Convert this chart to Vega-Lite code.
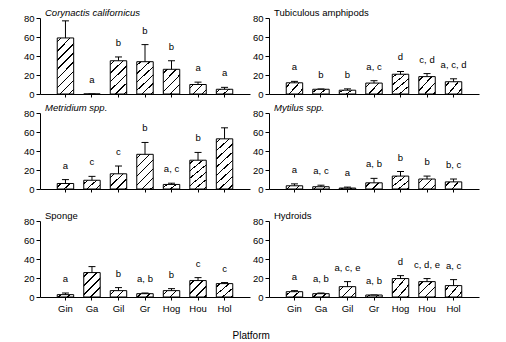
{
 "$schema": "https://vega.github.io/schema/vega-lite/v6.json",
 "padding": {"left": 23, "top": 7, "right": 5, "bottom": 2},
 "background": "white",
 "config": {
  "font": "Liberation Sans",
  "view": {"stroke": null},
  "axis": {"domainColor": "black", "tickColor": "black", "labelColor": "black", "labelFontSize": 9.5, "grid": false, "title": null, "domainWidth": 1, "tickWidth": 1},
  "title": {"anchor": "start", "frame": "group", "fontSize": 9.5, "fontWeight": "normal", "dx": 5, "offset": -4, "color": "black"}
 },
 "params": [
  {"name": "gA", "value": {"gradient": "linear", "x1": 0, "y1": 0, "x2": 1.144, "y2": 0.208, "stops": [{"offset": 0, "color": "#fff"}, {"offset": 0.167, "color": "#fff"}, {"offset": 0.167, "color": "#000"}, {"offset": 0.244, "color": "#000"}, {"offset": 0.244, "color": "#fff"}, {"offset": 0.628, "color": "#fff"}, {"offset": 0.628, "color": "#000"}, {"offset": 0.705, "color": "#000"}, {"offset": 0.705, "color": "#fff"}, {"offset": 1, "color": "#fff"}]}},
  {"name": "gB", "value": {"gradient": "linear", "x1": 0, "y1": 0, "x2": 1.204, "y2": 0.438, "stops": [{"offset": 0, "color": "#fff"}, {"offset": 0.144, "color": "#fff"}, {"offset": 0.144, "color": "#000"}, {"offset": 0.211, "color": "#000"}, {"offset": 0.211, "color": "#fff"}, {"offset": 0.544, "color": "#fff"}, {"offset": 0.544, "color": "#000"}, {"offset": 0.611, "color": "#000"}, {"offset": 0.611, "color": "#fff"}, {"offset": 1, "color": "#fff"}]}},
  {"name": "gC", "value": {"gradient": "linear", "x1": 0, "y1": 0, "x2": 1.175, "y2": 0.712, "stops": [{"offset": 0, "color": "#fff"}, {"offset": 0.123, "color": "#fff"}, {"offset": 0.123, "color": "#000"}, {"offset": 0.179, "color": "#000"}, {"offset": 0.179, "color": "#fff"}, {"offset": 0.463, "color": "#fff"}, {"offset": 0.463, "color": "#000"}, {"offset": 0.519, "color": "#000"}, {"offset": 0.519, "color": "#fff"}, {"offset": 0.802, "color": "#fff"}, {"offset": 0.802, "color": "#000"}, {"offset": 0.858, "color": "#000"}, {"offset": 0.858, "color": "#fff"}, {"offset": 1, "color": "#fff"}]}},
  {"name": "gD", "value": {"gradient": "linear", "x1": 0, "y1": 0, "x2": 1.015, "y2": 0.984, "stops": [{"offset": 0, "color": "#fff"}, {"offset": 0.100, "color": "#fff"}, {"offset": 0.100, "color": "#000"}, {"offset": 0.146, "color": "#000"}, {"offset": 0.146, "color": "#fff"}, {"offset": 0.377, "color": "#fff"}, {"offset": 0.377, "color": "#000"}, {"offset": 0.423, "color": "#000"}, {"offset": 0.423, "color": "#fff"}, {"offset": 0.654, "color": "#fff"}, {"offset": 0.654, "color": "#000"}, {"offset": 0.700, "color": "#000"}, {"offset": 0.700, "color": "#fff"}, {"offset": 0.931, "color": "#fff"}, {"offset": 0.931, "color": "#000"}, {"offset": 0.977, "color": "#000"}, {"offset": 0.977, "color": "#fff"}, {"offset": 1, "color": "#fff"}]}},
  {"name": "gE", "value": {"gradient": "linear", "x1": 0, "y1": 0, "x2": 0.788, "y2": 1.146, "stops": [{"offset": 0, "color": "#fff"}, {"offset": 0.080, "color": "#fff"}, {"offset": 0.080, "color": "#000"}, {"offset": 0.118, "color": "#000"}, {"offset": 0.118, "color": "#fff"}, {"offset": 0.302, "color": "#fff"}, {"offset": 0.302, "color": "#000"}, {"offset": 0.340, "color": "#000"}, {"offset": 0.340, "color": "#fff"}, {"offset": 0.525, "color": "#fff"}, {"offset": 0.525, "color": "#000"}, {"offset": 0.562, "color": "#000"}, {"offset": 0.562, "color": "#fff"}, {"offset": 0.747, "color": "#fff"}, {"offset": 0.747, "color": "#000"}, {"offset": 0.784, "color": "#000"}, {"offset": 0.784, "color": "#fff"}, {"offset": 1, "color": "#fff"}]}},
  {"name": "gF", "value": {"gradient": "linear", "x1": 0, "y1": 0, "x2": 0.568, "y2": 1.204, "stops": [{"offset": 0, "color": "#fff"}, {"offset": 0.063, "color": "#fff"}, {"offset": 0.063, "color": "#000"}, {"offset": 0.092, "color": "#000"}, {"offset": 0.092, "color": "#fff"}, {"offset": 0.238, "color": "#fff"}, {"offset": 0.238, "color": "#000"}, {"offset": 0.267, "color": "#000"}, {"offset": 0.267, "color": "#fff"}, {"offset": 0.413, "color": "#fff"}, {"offset": 0.413, "color": "#000"}, {"offset": 0.442, "color": "#000"}, {"offset": 0.442, "color": "#fff"}, {"offset": 0.588, "color": "#fff"}, {"offset": 0.588, "color": "#000"}, {"offset": 0.617, "color": "#000"}, {"offset": 0.617, "color": "#fff"}, {"offset": 0.762, "color": "#fff"}, {"offset": 0.762, "color": "#000"}, {"offset": 0.791, "color": "#000"}, {"offset": 0.791, "color": "#fff"}, {"offset": 0.937, "color": "#fff"}, {"offset": 0.937, "color": "#000"}, {"offset": 0.966, "color": "#000"}, {"offset": 0.966, "color": "#fff"}, {"offset": 1, "color": "#fff"}]}},
  {"name": "gG", "value": {"gradient": "linear", "x1": 0, "y1": 0, "x2": 0.358, "y2": 1.193, "stops": [{"offset": 0, "color": "#fff"}, {"offset": 0.045, "color": "#fff"}, {"offset": 0.045, "color": "#000"}, {"offset": 0.066, "color": "#000"}, {"offset": 0.066, "color": "#fff"}, {"offset": 0.171, "color": "#fff"}, {"offset": 0.171, "color": "#000"}, {"offset": 0.192, "color": "#000"}, {"offset": 0.192, "color": "#fff"}, {"offset": 0.297, "color": "#fff"}, {"offset": 0.297, "color": "#000"}, {"offset": 0.318, "color": "#000"}, {"offset": 0.318, "color": "#fff"}, {"offset": 0.423, "color": "#fff"}, {"offset": 0.423, "color": "#000"}, {"offset": 0.444, "color": "#000"}, {"offset": 0.444, "color": "#fff"}, {"offset": 0.549, "color": "#fff"}, {"offset": 0.549, "color": "#000"}, {"offset": 0.570, "color": "#000"}, {"offset": 0.570, "color": "#fff"}, {"offset": 0.675, "color": "#fff"}, {"offset": 0.675, "color": "#000"}, {"offset": 0.696, "color": "#000"}, {"offset": 0.696, "color": "#fff"}, {"offset": 0.800, "color": "#fff"}, {"offset": 0.800, "color": "#000"}, {"offset": 0.821, "color": "#000"}, {"offset": 0.821, "color": "#fff"}, {"offset": 0.926, "color": "#fff"}, {"offset": 0.926, "color": "#000"}, {"offset": 0.947, "color": "#000"}, {"offset": 0.947, "color": "#fff"}, {"offset": 1, "color": "#fff"}]}}
 ],
 "datasets": {
  "d": [
   {"panel": "C", "platform": "Gin", "mean": 59, "upper": 77, "letter": ""},
   {"panel": "C", "platform": "Ga", "mean": 0, "upper": 0, "letter": "a"},
   {"panel": "C", "platform": "Gil", "mean": 35, "upper": 39, "letter": "b"},
   {"panel": "C", "platform": "Gr", "mean": 34, "upper": 52, "letter": "b"},
   {"panel": "C", "platform": "Hog", "mean": 26, "upper": 35, "letter": "b"},
   {"panel": "C", "platform": "Hou", "mean": 10, "upper": 12.5, "letter": "a"},
   {"panel": "C", "platform": "Hol", "mean": 5, "upper": 7, "letter": "a"},
   {"panel": "T", "platform": "Gin", "mean": 11.8, "upper": 13.3, "letter": "a"},
   {"panel": "T", "platform": "Ga", "mean": 5, "upper": 5.3, "letter": "b"},
   {"panel": "T", "platform": "Gil", "mean": 4, "upper": 5.4, "letter": "b"},
   {"panel": "T", "platform": "Gr", "mean": 11.5, "upper": 14, "letter": "a, c"},
   {"panel": "T", "platform": "Hog", "mean": 20.8, "upper": 23.7, "letter": "d"},
   {"panel": "T", "platform": "Hou", "mean": 18.3, "upper": 21.5, "letter": "c, d"},
   {"panel": "T", "platform": "Hol", "mean": 12.9, "upper": 16, "letter": "a, c, d"},
   {"panel": "M", "platform": "Gin", "mean": 5.8, "upper": 9.9, "letter": "a"},
   {"panel": "M", "platform": "Ga", "mean": 9.2, "upper": 13.3, "letter": "c"},
   {"panel": "M", "platform": "Gil", "mean": 16, "upper": 24.2, "letter": "c"},
   {"panel": "M", "platform": "Gr", "mean": 36.5, "upper": 49, "letter": "b"},
   {"panel": "M", "platform": "Hog", "mean": 4.8, "upper": 6.1, "letter": "a, c"},
   {"panel": "M", "platform": "Hou", "mean": 30.3, "upper": 38.5, "letter": "b"},
   {"panel": "M", "platform": "Hol", "mean": 52.8, "upper": 64.4, "letter": ""},
   {"panel": "Y", "platform": "Gin", "mean": 3.4, "upper": 5.4, "letter": "a"},
   {"panel": "Y", "platform": "Ga", "mean": 2.4, "upper": 4, "letter": "a, c"},
   {"panel": "Y", "platform": "Gil", "mean": 1, "upper": 2, "letter": "a"},
   {"panel": "Y", "platform": "Gr", "mean": 6.5, "upper": 11.2, "letter": "a, b"},
   {"panel": "Y", "platform": "Hog", "mean": 13.6, "upper": 18.4, "letter": "b"},
   {"panel": "Y", "platform": "Hou", "mean": 10.5, "upper": 13.6, "letter": "b"},
   {"panel": "Y", "platform": "Hol", "mean": 7.5, "upper": 10.5, "letter": "b, c"},
   {"panel": "S", "platform": "Gin", "mean": 2.5, "upper": 4.2, "letter": "a"},
   {"panel": "S", "platform": "Ga", "mean": 25.7, "upper": 32, "letter": ""},
   {"panel": "S", "platform": "Gil", "mean": 6.7, "upper": 9.9, "letter": "b"},
   {"panel": "S", "platform": "Gr", "mean": 3.5, "upper": 4.2, "letter": "a, b"},
   {"panel": "S", "platform": "Hog", "mean": 6.7, "upper": 8.8, "letter": "b"},
   {"panel": "S", "platform": "Hou", "mean": 17.3, "upper": 20.4, "letter": "c"},
   {"panel": "S", "platform": "Hol", "mean": 14.1, "upper": 15.2, "letter": "c"},
   {"panel": "H", "platform": "Gin", "mean": 5.6, "upper": 6.7, "letter": "a"},
   {"panel": "H", "platform": "Ga", "mean": 3.5, "upper": 4.2, "letter": "a, b"},
   {"panel": "H", "platform": "Gil", "mean": 10.9, "upper": 16.2, "letter": "a, c, e"},
   {"panel": "H", "platform": "Gr", "mean": 2.1, "upper": 2.1, "letter": "a, b"},
   {"panel": "H", "platform": "Hog", "mean": 19.4, "upper": 22.5, "letter": "d"},
   {"panel": "H", "platform": "Hou", "mean": 16.2, "upper": 19.4, "letter": "c, d, e"},
   {"panel": "H", "platform": "Hol", "mean": 12, "upper": 18.3, "letter": "a, c"}
  ]
 },
 "title": {"text": "Platform", "orient": "bottom", "anchor": "middle", "frame": "bounds", "dx": 0, "fontSize": 10, "fontWeight": "normal", "offset": 18, "color": "black"},
 "spacing": 3,
 "vconcat": [
  {"spacing": 2, "hconcat": [
   {"title": {"text": "Corynactis californicus", "fontStyle": "italic"}, "width": 210, "height": 76, "data": {"name": "d"}, "transform": [{"filter": "datum.panel === 'C'"}],
    "encoding": {"x": {"field": "platform", "type": "nominal", "scale": {"domain": ["Gin", "Ga", "Gil", "Gr", "Hog", "Hou", "Hol"], "paddingInner": 0.38, "paddingOuter": 0.65}, "axis": {"labels": false, "tickSize": 3, "title": null}}},
    "layer": [
     {"mark": {"type": "bar", "stroke": "black", "strokeWidth": 1}, "encoding": {"y": {"field": "mean", "type": "quantitative", "scale": {"domain": [0, 80]}, "axis": {"values": [0, 20, 40, 60, 80], "tickSize": 4, "labelPadding": 2}}, "fill": {"condition": [{"test": "datum.mean >= 45", "value": {"expr": "gG"}}, {"test": "datum.mean >= 30", "value": {"expr": "gF"}}, {"test": "datum.mean >= 20", "value": {"expr": "gE"}}, {"test": "datum.mean >= 13", "value": {"expr": "gD"}}, {"test": "datum.mean >= 8", "value": {"expr": "gC"}}, {"test": "datum.mean >= 4", "value": {"expr": "gB"}}], "value": {"expr": "gA"}}}},
     {"mark": {"type": "rule", "color": "black", "strokeWidth": 1}, "encoding": {"y": {"field": "mean", "type": "quantitative", "scale": {"domain": [0, 80]}, "axis": {"values": [0, 20, 40, 60, 80], "tickSize": 4, "labelPadding": 2}}, "y2": {"field": "upper"}}},
     {"mark": {"type": "tick", "color": "black", "size": 7, "thickness": 1, "opacity": 1}, "encoding": {"y": {"field": "upper", "type": "quantitative", "scale": {"domain": [0, 80]}, "axis": {"values": [0, 20, 40, 60, 80], "tickSize": 4, "labelPadding": 2}}}},
     {"transform": [{"filter": "datum.letter !== ''"}], "mark": {"type": "text", "baseline": "bottom", "dy": -9, "fontSize": 9.5, "color": "black"}, "encoding": {"y": {"field": "upper", "type": "quantitative", "scale": {"domain": [0, 80]}, "axis": {"values": [0, 20, 40, 60, 80], "tickSize": 4, "labelPadding": 2}}, "text": {"field": "letter"}}}
    ]},
   {"title": {"text": "Tubiculous amphipods"}, "width": 210, "height": 76, "data": {"name": "d"}, "transform": [{"filter": "datum.panel === 'T'"}],
    "encoding": {"x": {"field": "platform", "type": "nominal", "scale": {"domain": ["Gin", "Ga", "Gil", "Gr", "Hog", "Hou", "Hol"], "paddingInner": 0.38, "paddingOuter": 0.65}, "axis": {"labels": false, "tickSize": 3, "title": null}}},
    "layer": [
     {"mark": {"type": "bar", "stroke": "black", "strokeWidth": 1}, "encoding": {"y": {"field": "mean", "type": "quantitative", "scale": {"domain": [0, 80]}, "axis": {"values": [0, 20, 40, 60, 80], "tickSize": 4, "labelPadding": 2}}, "fill": {"condition": [{"test": "datum.mean >= 45", "value": {"expr": "gG"}}, {"test": "datum.mean >= 30", "value": {"expr": "gF"}}, {"test": "datum.mean >= 20", "value": {"expr": "gE"}}, {"test": "datum.mean >= 13", "value": {"expr": "gD"}}, {"test": "datum.mean >= 8", "value": {"expr": "gC"}}, {"test": "datum.mean >= 4", "value": {"expr": "gB"}}], "value": {"expr": "gA"}}}},
     {"mark": {"type": "rule", "color": "black", "strokeWidth": 1}, "encoding": {"y": {"field": "mean", "type": "quantitative", "scale": {"domain": [0, 80]}, "axis": {"values": [0, 20, 40, 60, 80], "tickSize": 4, "labelPadding": 2}}, "y2": {"field": "upper"}}},
     {"mark": {"type": "tick", "color": "black", "size": 7, "thickness": 1, "opacity": 1}, "encoding": {"y": {"field": "upper", "type": "quantitative", "scale": {"domain": [0, 80]}, "axis": {"values": [0, 20, 40, 60, 80], "tickSize": 4, "labelPadding": 2}}}},
     {"transform": [{"filter": "datum.letter !== ''"}], "mark": {"type": "text", "baseline": "bottom", "dy": -9, "fontSize": 9.5, "color": "black"}, "encoding": {"y": {"field": "upper", "type": "quantitative", "scale": {"domain": [0, 80]}, "axis": {"values": [0, 20, 40, 60, 80], "tickSize": 4, "labelPadding": 2}}, "text": {"field": "letter"}}}
    ]}
  ]},
  {"spacing": 16, "vconcat": [
   {"spacing": 2, "hconcat": [
    {"title": {"text": "Metridium spp.", "fontStyle": "italic"}, "width": 210, "height": 76, "data": {"name": "d"}, "transform": [{"filter": "datum.panel === 'M'"}],
     "encoding": {"x": {"field": "platform", "type": "nominal", "scale": {"domain": ["Gin", "Ga", "Gil", "Gr", "Hog", "Hou", "Hol"], "paddingInner": 0.38, "paddingOuter": 0.65}, "axis": {"labels": false, "tickSize": 3, "title": null}}},
     "layer": [
      {"mark": {"type": "bar", "stroke": "black", "strokeWidth": 1}, "encoding": {"y": {"field": "mean", "type": "quantitative", "scale": {"domain": [0, 80]}, "axis": {"values": [0, 20, 40, 60, 80], "tickSize": 4, "labelPadding": 2}}, "fill": {"condition": [{"test": "datum.mean >= 45", "value": {"expr": "gG"}}, {"test": "datum.mean >= 30", "value": {"expr": "gF"}}, {"test": "datum.mean >= 20", "value": {"expr": "gE"}}, {"test": "datum.mean >= 13", "value": {"expr": "gD"}}, {"test": "datum.mean >= 8", "value": {"expr": "gC"}}, {"test": "datum.mean >= 4", "value": {"expr": "gB"}}], "value": {"expr": "gA"}}}},
      {"mark": {"type": "rule", "color": "black", "strokeWidth": 1}, "encoding": {"y": {"field": "mean", "type": "quantitative", "scale": {"domain": [0, 80]}, "axis": {"values": [0, 20, 40, 60, 80], "tickSize": 4, "labelPadding": 2}}, "y2": {"field": "upper"}}},
      {"mark": {"type": "tick", "color": "black", "size": 7, "thickness": 1, "opacity": 1}, "encoding": {"y": {"field": "upper", "type": "quantitative", "scale": {"domain": [0, 80]}, "axis": {"values": [0, 20, 40, 60, 80], "tickSize": 4, "labelPadding": 2}}}},
      {"transform": [{"filter": "datum.letter !== ''"}], "mark": {"type": "text", "baseline": "bottom", "dy": -9, "fontSize": 9.5, "color": "black"}, "encoding": {"y": {"field": "upper", "type": "quantitative", "scale": {"domain": [0, 80]}, "axis": {"values": [0, 20, 40, 60, 80], "tickSize": 4, "labelPadding": 2}}, "text": {"field": "letter"}}}
     ]},
    {"title": {"text": "Mytilus spp.", "fontStyle": "italic"}, "width": 210, "height": 76, "data": {"name": "d"}, "transform": [{"filter": "datum.panel === 'Y'"}],
     "encoding": {"x": {"field": "platform", "type": "nominal", "scale": {"domain": ["Gin", "Ga", "Gil", "Gr", "Hog", "Hou", "Hol"], "paddingInner": 0.38, "paddingOuter": 0.65}, "axis": {"labels": false, "tickSize": 3, "title": null}}},
     "layer": [
      {"mark": {"type": "bar", "stroke": "black", "strokeWidth": 1}, "encoding": {"y": {"field": "mean", "type": "quantitative", "scale": {"domain": [0, 80]}, "axis": {"values": [0, 20, 40, 60, 80], "tickSize": 4, "labelPadding": 2}}, "fill": {"condition": [{"test": "datum.mean >= 45", "value": {"expr": "gG"}}, {"test": "datum.mean >= 30", "value": {"expr": "gF"}}, {"test": "datum.mean >= 20", "value": {"expr": "gE"}}, {"test": "datum.mean >= 13", "value": {"expr": "gD"}}, {"test": "datum.mean >= 8", "value": {"expr": "gC"}}, {"test": "datum.mean >= 4", "value": {"expr": "gB"}}], "value": {"expr": "gA"}}}},
      {"mark": {"type": "rule", "color": "black", "strokeWidth": 1}, "encoding": {"y": {"field": "mean", "type": "quantitative", "scale": {"domain": [0, 80]}, "axis": {"values": [0, 20, 40, 60, 80], "tickSize": 4, "labelPadding": 2}}, "y2": {"field": "upper"}}},
      {"mark": {"type": "tick", "color": "black", "size": 7, "thickness": 1, "opacity": 1}, "encoding": {"y": {"field": "upper", "type": "quantitative", "scale": {"domain": [0, 80]}, "axis": {"values": [0, 20, 40, 60, 80], "tickSize": 4, "labelPadding": 2}}}},
      {"transform": [{"filter": "datum.letter !== ''"}], "mark": {"type": "text", "baseline": "bottom", "dy": -9, "fontSize": 9.5, "color": "black"}, "encoding": {"y": {"field": "upper", "type": "quantitative", "scale": {"domain": [0, 80]}, "axis": {"values": [0, 20, 40, 60, 80], "tickSize": 4, "labelPadding": 2}}, "text": {"field": "letter"}}}
     ]}
   ]},
   {"spacing": 2, "hconcat": [
    {"title": {"text": "Sponge"}, "width": 210, "height": 76, "data": {"name": "d"}, "transform": [{"filter": "datum.panel === 'S'"}],
     "encoding": {"x": {"field": "platform", "type": "nominal", "scale": {"domain": ["Gin", "Ga", "Gil", "Gr", "Hog", "Hou", "Hol"], "paddingInner": 0.38, "paddingOuter": 0.65}, "axis": {"labels": true, "labelAngle": 0, "labelPadding": 3, "tickSize": 3, "title": null}}},
     "layer": [
      {"mark": {"type": "bar", "stroke": "black", "strokeWidth": 1}, "encoding": {"y": {"field": "mean", "type": "quantitative", "scale": {"domain": [0, 80]}, "axis": {"values": [0, 20, 40, 60, 80], "tickSize": 4, "labelPadding": 2}}, "fill": {"condition": [{"test": "datum.mean >= 45", "value": {"expr": "gG"}}, {"test": "datum.mean >= 30", "value": {"expr": "gF"}}, {"test": "datum.mean >= 20", "value": {"expr": "gE"}}, {"test": "datum.mean >= 13", "value": {"expr": "gD"}}, {"test": "datum.mean >= 8", "value": {"expr": "gC"}}, {"test": "datum.mean >= 4", "value": {"expr": "gB"}}], "value": {"expr": "gA"}}}},
      {"mark": {"type": "rule", "color": "black", "strokeWidth": 1}, "encoding": {"y": {"field": "mean", "type": "quantitative", "scale": {"domain": [0, 80]}, "axis": {"values": [0, 20, 40, 60, 80], "tickSize": 4, "labelPadding": 2}}, "y2": {"field": "upper"}}},
      {"mark": {"type": "tick", "color": "black", "size": 7, "thickness": 1, "opacity": 1}, "encoding": {"y": {"field": "upper", "type": "quantitative", "scale": {"domain": [0, 80]}, "axis": {"values": [0, 20, 40, 60, 80], "tickSize": 4, "labelPadding": 2}}}},
      {"transform": [{"filter": "datum.letter !== ''"}], "mark": {"type": "text", "baseline": "bottom", "dy": -9, "fontSize": 9.5, "color": "black"}, "encoding": {"y": {"field": "upper", "type": "quantitative", "scale": {"domain": [0, 80]}, "axis": {"values": [0, 20, 40, 60, 80], "tickSize": 4, "labelPadding": 2}}, "text": {"field": "letter"}}}
     ]},
    {"title": {"text": "Hydroids"}, "width": 210, "height": 76, "data": {"name": "d"}, "transform": [{"filter": "datum.panel === 'H'"}],
     "encoding": {"x": {"field": "platform", "type": "nominal", "scale": {"domain": ["Gin", "Ga", "Gil", "Gr", "Hog", "Hou", "Hol"], "paddingInner": 0.38, "paddingOuter": 0.65}, "axis": {"labels": true, "labelAngle": 0, "labelPadding": 3, "tickSize": 3, "title": null}}},
     "layer": [
      {"mark": {"type": "bar", "stroke": "black", "strokeWidth": 1}, "encoding": {"y": {"field": "mean", "type": "quantitative", "scale": {"domain": [0, 80]}, "axis": {"values": [0, 20, 40, 60, 80], "tickSize": 4, "labelPadding": 2}}, "fill": {"condition": [{"test": "datum.mean >= 45", "value": {"expr": "gG"}}, {"test": "datum.mean >= 30", "value": {"expr": "gF"}}, {"test": "datum.mean >= 20", "value": {"expr": "gE"}}, {"test": "datum.mean >= 13", "value": {"expr": "gD"}}, {"test": "datum.mean >= 8", "value": {"expr": "gC"}}, {"test": "datum.mean >= 4", "value": {"expr": "gB"}}], "value": {"expr": "gA"}}}},
      {"mark": {"type": "rule", "color": "black", "strokeWidth": 1}, "encoding": {"y": {"field": "mean", "type": "quantitative", "scale": {"domain": [0, 80]}, "axis": {"values": [0, 20, 40, 60, 80], "tickSize": 4, "labelPadding": 2}}, "y2": {"field": "upper"}}},
      {"mark": {"type": "tick", "color": "black", "size": 7, "thickness": 1, "opacity": 1}, "encoding": {"y": {"field": "upper", "type": "quantitative", "scale": {"domain": [0, 80]}, "axis": {"values": [0, 20, 40, 60, 80], "tickSize": 4, "labelPadding": 2}}}},
      {"transform": [{"filter": "datum.letter !== ''"}], "mark": {"type": "text", "baseline": "bottom", "dy": -9, "fontSize": 9.5, "color": "black"}, "encoding": {"y": {"field": "upper", "type": "quantitative", "scale": {"domain": [0, 80]}, "axis": {"values": [0, 20, 40, 60, 80], "tickSize": 4, "labelPadding": 2}}, "text": {"field": "letter"}}}
     ]}
   ]}
  ]}
 ]
}
